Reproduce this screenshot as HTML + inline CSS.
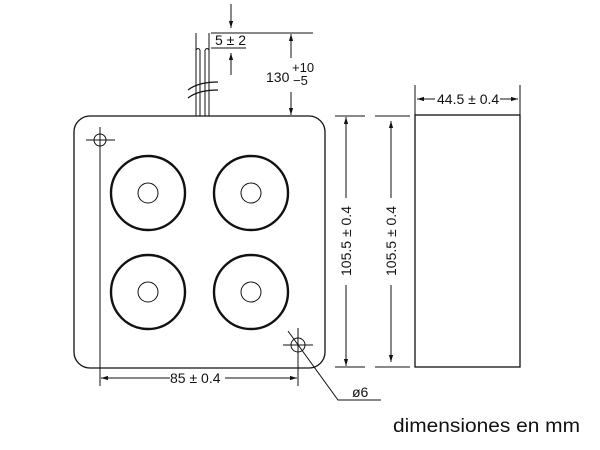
<!DOCTYPE html>
<html><head><style>body{margin:0;background:#fff}svg{display:block}text{font-family:"Liberation Sans",Arial,sans-serif;fill:#111}</style></head>
<body>
<svg width="600" height="450" viewBox="0 0 600 450" xmlns="http://www.w3.org/2000/svg">
<defs><marker id="a" viewBox="0 0 10 10" refX="10" refY="5" markerWidth="7" markerHeight="7" orient="auto-start-reverse"><path d="M0,2 L10,5 L0,8 z" fill="#111"/></marker></defs>
<g stroke="#111" fill="none" stroke-width="1">
<line x1="196" y1="33" x2="196" y2="116"/><line x1="200" y1="50" x2="200" y2="116"/>
<line x1="205" y1="50" x2="205" y2="116"/><line x1="209" y1="33" x2="209" y2="116"/>
<path d="M196,50 q2,-3 4,0 M205,50 q2,-3 4,0"/>
<path d="M188,90 q10,-8 30,-8 M188,98 q10,-8 30,-8" stroke-width="1.2"/>
<line x1="211" y1="33" x2="313" y2="33"/>
<line x1="211" y1="48" x2="246" y2="48"/>
<line x1="231" y1="4" x2="231" y2="28" marker-end="url(#a)"/>
<line x1="231" y1="75" x2="231" y2="53" marker-end="url(#a)"/>
<line x1="291" y1="58" x2="291" y2="34" marker-end="url(#a)"/>
<line x1="291" y1="92" x2="291" y2="115" marker-end="url(#a)"/>
<rect x="74" y="116" width="251" height="252" rx="16" stroke-width="1.3"/>
<g stroke-width="2.4">
<circle cx="148" cy="193" r="37"/><circle cx="251" cy="193" r="37"/>
<circle cx="148" cy="292" r="37"/><circle cx="251" cy="292" r="37"/>
</g>
<circle cx="148" cy="193" r="10"/><circle cx="251" cy="193" r="10"/>
<circle cx="148" cy="292" r="10"/><circle cx="251" cy="292" r="10"/>
<circle cx="100" cy="140" r="6"/><line x1="86" y1="140" x2="115" y2="140"/><line x1="100" y1="127" x2="100" y2="386"/>
<circle cx="298" cy="345" r="7"/><line x1="283" y1="345" x2="313" y2="345"/><line x1="298" y1="328" x2="298" y2="386"/>
<line x1="101" y1="378" x2="170" y2="378" marker-start="url(#a)"/>
<line x1="225" y1="378" x2="297" y2="378" marker-end="url(#a)"/>
<polyline points="288,331 338,400 381,400"/>
<line x1="335" y1="116" x2="365" y2="116"/><line x1="335" y1="367" x2="365" y2="367"/>
<line x1="375" y1="116" x2="410" y2="116"/><line x1="375" y1="367" x2="410" y2="367"/>
<line x1="346" y1="198" x2="346" y2="117" marker-end="url(#a)"/>
<line x1="346" y1="285" x2="346" y2="366" marker-end="url(#a)"/>
<line x1="391" y1="198" x2="391" y2="121" marker-end="url(#a)"/>
<line x1="391" y1="285" x2="391" y2="362" marker-end="url(#a)"/>
<rect x="415" y="115" width="105" height="252" stroke-width="1.3"/>
<line x1="415" y1="85" x2="415" y2="115"/><line x1="520" y1="85" x2="520" y2="115"/>
<line x1="435" y1="99" x2="417" y2="99" marker-end="url(#a)"/>
<line x1="500" y1="99" x2="518" y2="99" marker-end="url(#a)"/>
</g>
<text x="215" y="45" font-size="14">5 ± 2</text>
<text x="266" y="82" font-size="14">130</text>
<text x="292" y="72" font-size="13">+10</text>
<text x="293" y="85" font-size="13">−5</text>
<text x="170" y="383" font-size="14">85 ± 0.4</text>
<text x="352" y="397" font-size="14">ø6</text>
<text x="437" y="104" font-size="14">44.5 ± 0.4</text>
<text transform="translate(351,241) rotate(-90)" text-anchor="middle" font-size="14">105.5 ± 0.4</text>
<text transform="translate(396,241) rotate(-90)" text-anchor="middle" font-size="14">105.5 ± 0.4</text>
<text x="393" y="432" font-size="19" textLength="187" lengthAdjust="spacingAndGlyphs">dimensiones en mm</text>
</svg>
</body></html>
